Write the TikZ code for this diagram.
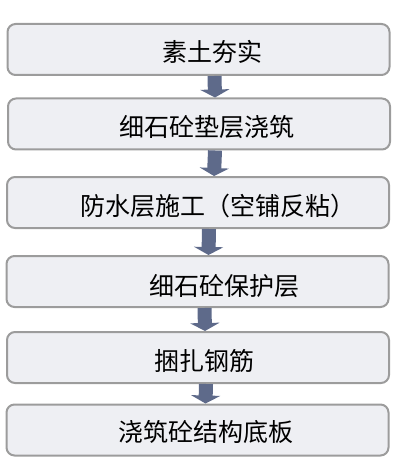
\documentclass[tikz,border=0pt]{standalone}
\usepackage{fontspec}
\setmainfont{Noto Sans CJK SC}
\usetikzlibrary{arrows.meta}
\definecolor{boxfill}{HTML}{EEEFF3}
\definecolor{boxline}{HTML}{9C9C9C}
\definecolor{arrowc}{HTML}{5E6A8A}
\tikzset{
  stepbox/.style={draw=boxline, line width=2pt, fill=boxfill, rounded corners=8pt, minimum width=382pt, minimum height=51pt, inner sep=0pt},
  steptext/.style={font=\fontsize{25}{27}\selectfont, text=black, inner sep=0pt},
  flow/.style={arrowc, line width=14pt, -{Triangle[width=29pt,length=8pt]}}
}
\begin{document}
\begin{tikzpicture}[x=1pt,y=-1pt]
\useasboundingbox (0,0) rectangle (408,473);
\node[stepbox] (b1) at (198.5,49.5) {};
\node[stepbox] (b2) at (199,124) {};
\node[stepbox] (b3) at (198,202.5) {};
\node[stepbox] (b4) at (197.5,281.5) {};
\node[stepbox] (b5) at (198,357.5) {};
\node[stepbox] (b6) at (197.5,430) {};
\node[steptext] (t1) at (212,52) {素土夯实};
\node[steptext] (t2) at (207,127) {细石砼垫层浇筑};
\node[steptext] (t3) at (218,206) {防水层施工（空铺反粘）};
\node[steptext] (t4) at (224,286) {细石砼保护层};
\node[steptext] (t5) at (204,361) {捆扎钢筋};
\node[steptext] (t6) at (206,431.5) {浇筑砼结构底板};
\draw[flow] ([xshift=16pt]b1.south) -- ([xshift=16pt]b2.north);
\draw[flow] ([xshift=16pt]b2.south) -- ([xshift=16pt]b3.north);
\draw[flow] ([xshift=11pt]b3.south) -- ([xshift=11pt]b4.north);
\draw[flow] ([xshift=7pt]b4.south) -- ([xshift=7pt]b5.north);
\draw[flow] ([xshift=8pt]b5.south) -- ([xshift=8pt]b6.north);
\end{tikzpicture}
\end{document}
